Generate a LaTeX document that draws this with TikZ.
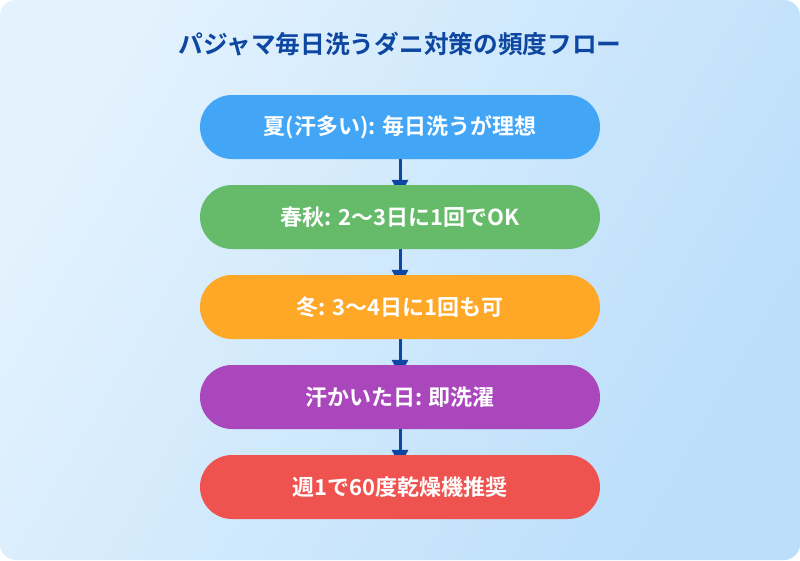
\documentclass[tikz,border=0pt]{standalone}
\usepackage{fontspec}
\setmainfont{Noto Sans CJK JP}[BoldFont={Noto Sans CJK JP Bold}]
\usetikzlibrary{arrows.meta}
\pgfdeclarelayer{back}
\pgfdeclarelayer{bg}
\pgfsetlayers{back,bg,main}
\definecolor{bgA}{HTML}{E3F2FD}
\definecolor{bgB}{HTML}{BBDEFB}
\definecolor{titleC}{HTML}{0D47A1}
\definecolor{arrC}{HTML}{0D47A1}
\definecolor{cBlue}{HTML}{42A5F5}
\definecolor{cGreen}{HTML}{66BB6A}
\definecolor{cOrange}{HTML}{FFA726}
\definecolor{cPurple}{HTML}{AB47BC}
\definecolor{cRed}{HTML}{EF5350}
\tikzset{
  stepbox/.style={minimum width=400pt, minimum height=64pt, rounded corners=32pt,
    inner sep=0pt, text=white, font=\bfseries\fontsize{22pt}{26pt}\selectfont},
  arr/.style={draw=arrC, line width=3pt, -{Triangle[width=16pt,length=16pt]}, arrC},
}
\begin{document}
\begin{tikzpicture}[x=1pt,y=-1pt]
\useasboundingbox (0,0) rectangle (800,560);
\begin{pgfonlayer}{back}
\shade[rounded corners=16pt, left color=bgA, right color=bgB, shading angle=60] (0,0) rectangle (800,560);
\end{pgfonlayer}
\node[text=titleC, font=\bfseries\fontsize{24.7pt}{28pt}\selectfont] (title) at (400,44) {パジャマ毎日洗うダニ対策の頻度フロー};
\node[stepbox, fill=cBlue] (b1) at (400,127) {夏(汗多い): 毎日洗うが理想};
\node[stepbox, fill=cGreen] (b2) at (400,217) {春秋: 2〜3日に1回でOK};
\node[stepbox, fill=cOrange] (b3) at (400,307) {冬: 3〜4日に1回も可};
\node[stepbox, fill=cPurple] (b4) at (400,397) {汗かいた日: 即洗濯};
\node[stepbox, fill=cRed] (b5) at (400,487) {週1で60度乾燥機推奨};
\begin{pgfonlayer}{bg}
\foreach \a/\b in {b1/b2,b2/b3,b3/b4,b4/b5}{
  \draw[arr] (\a.south) -- ([yshift=-11pt]\b.north);
}
\end{pgfonlayer}
\end{tikzpicture}
\end{document}
